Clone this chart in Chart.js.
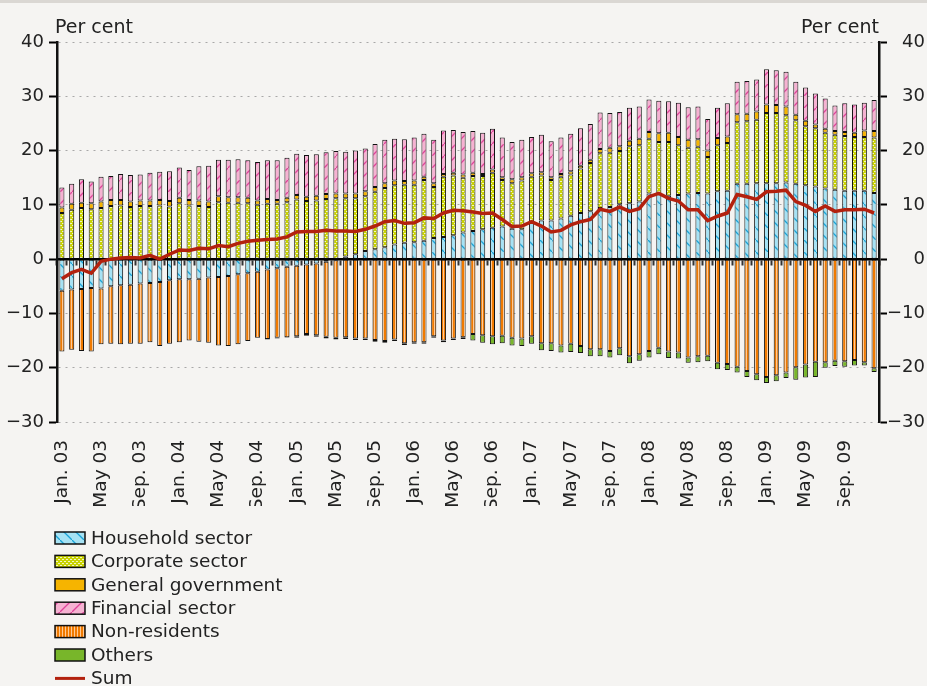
<!DOCTYPE html>
<html>
<head>
<meta charset="utf-8">
<script src="https://cdn.jsdelivr.net/npm/chart.js@4/dist/chart.umd.min.js"></script>
<style>
  html, body { margin: 0; padding: 0; background: #f5f4f2; }
  #topbar { position: absolute; left: 0; top: 0; width: 927px; height: 3px; background: #dad7d3; }
  #wrap { position: absolute; left: 0; top: 0; width: 927px; height: 686px; }
</style>
</head>
<body>
<div id="wrap"><canvas id="c" width="927" height="686"></canvas></div>
<div id="topbar"></div>
<script>
// ---------- DATA ----------
const monthNames = ['Jan.', 'Feb.', 'Mar.', 'Apr.', 'May', 'Jun.', 'Jul.', 'Aug.', 'Sep.', 'Oct.', 'Nov.', 'Dec.'];
const years = ['03', '04', '05', '06', '07', '08', '09'];
const categories = [];
years.forEach(y => monthNames.forEach(m => categories.push(m + ' ' + y)));

const unitLabel = 'Per cent';
const seriesNames = ['Household sector', 'Corporate sector', 'General government', 'Financial sector', 'Non-residents', 'Others', 'Sum'];

const household = [
  -5.8,-5.6,-5.5,-5.3,-5.4,-5.0,-4.8,-4.7,-4.5,-4.4,-4.2,-3.9,
  -3.7,-3.7,-3.6,-3.4,-3.3,-3.1,-2.8,-2.6,-2.3,-1.9,-1.7,-1.4,
  -1.2,-1.0,-0.8,-0.5,-0.2,0.5,0.9,1.5,1.8,2.2,2.7,3.0,
  3.1,3.4,3.9,4.1,4.4,4.9,5.2,5.5,5.8,6.0,5.6,5.5,
  6.9,7.1,7.1,7.5,8.0,8.5,8.8,9.4,9.6,10.1,10.3,10.6,
  12.1,12.0,11.7,11.8,12.1,12.2,12.1,12.5,12.6,13.9,13.9,14.0,
  14.0,14.0,14.1,13.9,13.6,13.4,13.0,12.8,12.6,12.6,12.6,12.2
];
const corporate = [
  8.5,9.1,9.4,9.2,9.4,9.8,9.9,9.6,9.8,9.8,9.9,9.7,
  10.3,9.9,9.8,9.6,10.5,10.4,10.4,10.3,10.0,10.2,10.2,10.5,
  11.0,10.7,10.8,11.1,11.2,10.7,10.3,10.1,10.6,10.9,10.9,10.7,
  10.6,11.2,9.4,11.1,11.0,10.1,10.1,9.8,10.1,8.6,8.4,9.0,
  8.3,8.3,7.5,7.7,7.6,8.2,8.9,10.1,10.0,9.8,10.5,10.4,
  10.1,9.6,9.9,9.2,8.4,8.5,6.7,8.5,8.8,11.3,11.5,11.7,
  12.9,12.9,12.4,11.7,10.9,10.7,10.3,10.1,10.1,9.9,9.9,10.2
];
const government = [
  1.0,1.1,1.0,1.1,1.2,1.1,1.0,1.0,1.0,1.0,1.0,1.0,
  1.0,1.0,1.0,1.0,1.1,1.0,1.0,1.0,0.8,0.9,0.7,0.8,
  0.8,0.8,0.9,0.9,0.9,0.9,0.9,0.9,0.9,0.9,0.9,0.7,
  0.8,0.6,0.7,0.5,0.5,0.6,0.6,0.4,0.6,0.5,0.7,0.6,
  0.6,0.6,0.5,0.5,0.6,0.5,0.6,0.8,0.9,0.9,1.0,1.2,
  1.2,1.6,1.7,1.5,1.5,1.4,1.2,1.3,1.2,1.5,1.4,1.5,
  1.6,1.5,1.6,1.0,1.0,0.7,0.7,0.7,0.7,0.8,1.2,1.2
];
const financial = [
  3.7,3.7,4.3,4.0,4.6,4.4,4.8,4.9,4.8,5.1,5.2,5.5,
  5.6,5.5,6.3,6.6,6.7,6.9,7.0,6.9,7.1,7.1,7.3,7.4,
  7.6,7.7,7.6,7.7,7.8,7.7,7.9,7.9,7.9,8.0,7.7,7.7,
  7.9,7.9,8.0,8.0,7.9,7.8,7.7,7.6,7.5,7.3,6.9,6.9,
  6.7,6.9,6.6,6.7,6.9,6.9,6.6,6.7,6.4,6.3,6.1,5.9,
  6.0,6.0,5.8,6.3,6.0,6.0,5.8,5.6,6.1,6.0,6.0,5.9,
  6.5,6.4,6.4,6.1,6.1,5.7,5.6,4.7,5.3,5.2,5.1,5.7
];
const nonResidents = [
  -11.2,-11.1,-11.4,-11.7,-10.3,-10.6,-10.9,-10.9,-11.1,-10.9,-11.8,-11.7,
  -11.6,-11.3,-11.6,-12.0,-12.6,-12.9,-12.9,-12.5,-12.2,-12.8,-12.8,-13.0,
  -13.0,-12.8,-13.2,-13.8,-14.3,-14.4,-14.6,-14.6,-14.9,-15.1,-14.8,-15.5,
  -15.3,-15.3,-14.2,-15.0,-14.6,-14.4,-13.8,-14.0,-14.2,-14.1,-14.5,-14.6,
  -14.2,-15.5,-15.5,-15.9,-15.6,-16.0,-16.6,-16.6,-16.9,-16.4,-17.9,-17.5,
  -16.9,-16.3,-17.0,-17.2,-18.1,-17.9,-17.8,-19.1,-19.3,-19.8,-20.6,-21.2,
  -21.7,-21.4,-20.9,-19.9,-19.4,-18.9,-19.0,-18.7,-18.8,-18.6,-19.0,-20.1
];
const others = [
  0,0,0,0,0,0,0,0,0,0,0,0,
  0,0,0,0,0,0,0,0,0,-0.1,-0.1,-0.1,
  -0.3,-0.3,-0.3,-0.3,-0.3,-0.3,-0.3,-0.3,-0.3,-0.3,-0.3,-0.3,
  -0.3,-0.3,-0.3,-0.3,-0.3,-0.3,-1.2,-1.4,-1.5,-1.4,-1.4,-1.4,
  -1.4,-1.3,-1.4,-1.3,-1.5,-1.3,-1.3,-1.3,-1.2,-1.3,-1.3,-1.2,
  -1.2,-1.2,-1.2,-1.1,-1.0,-1.1,-1.0,-1.2,-1.1,-1.1,-1.1,-1.1,
  -1.1,-1.1,-1.0,-2.3,-2.4,-2.8,-1.0,-1.0,-1.0,-1.0,-0.6,-0.7
];
const sum = [
  -3.6,-2.5,-1.9,-2.6,-0.4,0.0,0.2,0.3,0.2,0.7,0.0,0.9,
  1.7,1.6,2.0,1.9,2.5,2.3,2.9,3.3,3.5,3.6,3.7,4.1,
  5.0,5.1,5.1,5.3,5.2,5.2,5.1,5.5,6.1,6.9,7.1,6.6,
  6.7,7.6,7.5,8.5,9.0,8.9,8.7,8.4,8.5,7.3,6.0,6.1,
  6.9,6.1,5.0,5.3,6.3,6.9,7.3,9.2,8.8,9.6,8.8,9.3,
  11.5,12.1,11.2,10.7,9.1,9.1,7.1,7.9,8.5,11.9,11.5,11.0,
  12.4,12.5,12.7,10.6,9.9,8.8,9.8,8.8,9.1,9.1,9.2,8.5
];

// ---------- PATTERNS ----------
function makeTile(w, h, draw) {
  const c = document.createElement('canvas');
  c.width = w; c.height = h;
  const g = c.getContext('2d');
  draw(g, w, h);
  return document.getElementById('c').getContext('2d').createPattern(c, 'repeat');
}
const patHousehold = makeTile(12, 12, (g, w, h) => {
  g.fillStyle = '#a6e2f4'; g.fillRect(0, 0, w, h);
  g.strokeStyle = '#1aa3d6'; g.lineWidth = 1.3;
  g.beginPath(); g.moveTo(-1, -1); g.lineTo(w + 1, h + 1); g.stroke();
});
const patCorporate = makeTile(4, 4, (g, w, h) => {
  g.fillStyle = '#c9d300'; g.fillRect(0, 0, w, h);
  g.fillStyle = '#f4f6c4';
  g.fillRect(0, 1, 2, 1); g.fillRect(2, 3, 2, 1);
});
const patFinancial = makeTile(12, 12, (g, w, h) => {
  g.fillStyle = '#f6b2d2'; g.fillRect(0, 0, w, h);
  g.strokeStyle = '#df449a'; g.lineWidth = 1.3;
  g.beginPath(); g.moveTo(-1, h + 1); g.lineTo(w + 1, -1); g.stroke();
});
const patNonRes = makeTile(3, 3, (g, w, h) => {
  g.fillStyle = '#f07a00'; g.fillRect(0, 0, w, h);
  g.fillStyle = '#ffc994'; g.fillRect(2, 0, 1, h);
});
const colGov = '#f6b400';
const colOthers = '#78b62a';
const colSum = '#b3210e';

const FONT = '"DejaVu Sans", sans-serif';
const nz = arr => arr.map(v => (v === 0 ? null : v));
const fmt = v => (v < 0 ? '\u2212' + Math.abs(v) : String(v));

function barSet(label, data, bg) {
  return {
    type: 'bar', label, data: nz(data), backgroundColor: bg,
    borderColor: '#111', borderWidth: 1, borderSkipped: false,
    categoryPercentage: 1.0, barPercentage: 0.52, order: 1,
    xAxisID: 'x', yAxisID: 'y'
  };
}

// ---------- EXTRA DRAWING (unit labels + legend) ----------
const extras = {
  id: 'extras',
  afterDraw(chart) {
    const ctx = chart.ctx, a = chart.chartArea;
    ctx.save();
    ctx.font = '19px ' + FONT;
    ctx.fillStyle = '#222';
    ctx.textBaseline = 'alphabetic';
    ctx.textAlign = 'left';
    ctx.fillText(unitLabel, a.left - 2, a.top - 9);
    ctx.textAlign = 'right';
    ctx.fillText(unitLabel, a.right, a.top - 9);

    // legend (one item per row)
    const lx = a.left - 2, ly = a.bottom + 116, step = 23.4;
    ctx.font = '18.5px ' + FONT;
    ctx.textAlign = 'left';
    ctx.textBaseline = 'middle';
    chart.data.datasets.forEach((ds, i) => {
      const cy = ly + i * step;
      if (ds.type === 'line') {
        ctx.strokeStyle = ds.borderColor; ctx.lineWidth = 3;
        ctx.beginPath(); ctx.moveTo(lx, cy); ctx.lineTo(lx + 30, cy); ctx.stroke();
      } else {
        ctx.fillStyle = ds.backgroundColor;
        ctx.fillRect(lx, cy - 6, 30, 12);
        ctx.strokeStyle = '#111'; ctx.lineWidth = 1.5;
        ctx.strokeRect(lx, cy - 6, 30, 12);
      }
      ctx.fillStyle = '#222';
      ctx.fillText(ds.label, lx + 36, cy + 1);
    });
    ctx.restore();
  }
};

new Chart(document.getElementById('c'), {
  data: {
    labels: categories,
    datasets: [
      barSet(seriesNames[0], household, patHousehold),
      barSet(seriesNames[1], corporate, patCorporate),
      barSet(seriesNames[2], government, colGov),
      barSet(seriesNames[3], financial, patFinancial),
      barSet(seriesNames[4], nonResidents, patNonRes),
      barSet(seriesNames[5], others, colOthers),
      {
        type: 'line', label: seriesNames[6], data: sum, stack: 'sumline',
        borderColor: colSum, backgroundColor: colSum, borderWidth: 3.5,
        pointRadius: 0, tension: 0, order: 0, xAxisID: 'x', yAxisID: 'y'
      }
    ]
  },
  options: {
    responsive: false,
    devicePixelRatio: 1,
    animation: false,
    layout: { padding: { top: 42, right: 2, bottom: 180, left: 0 } },
    plugins: { legend: { display: false }, tooltip: { enabled: false } },
    scales: {
      x: {
        type: 'category', position: 'bottom', stacked: true, offset: true,
        grid: { display: false, offset: true },
        border: { display: false },
        ticks: {
          autoSkip: false, minRotation: 90, maxRotation: 90, padding: 10,
          color: '#222', font: { family: FONT, size: 18.5 },
          callback: (v, i) => (i % 4 === 0 ? categories[i] : '')
        },
        afterFit: s => { s.height = 84; }
      },
      x0: {
        type: 'category', position: { y: 0 }, offset: true, z: 1,
        grid: { offset: true, drawOnChartArea: false, drawTicks: true, tickLength: 5, tickColor: '#333', tickWidth: 2 },
        border: { display: true, color: '#000', width: 2.5 },
        ticks: { display: false }
      },
      y: {
        type: 'linear', position: 'left', stacked: true, min: -30, max: 40,
        ticks: { stepSize: 10, padding: 5, color: '#222', font: { family: FONT, size: 18 }, callback: v => fmt(v) },
        grid: { color: '#a8a8a8', lineWidth: 1, tickColor: '#000', tickWidth: 2, tickLength: 8 },
        border: { display: true, color: '#111', width: 2.5, dash: [2, 5] },
        afterFit: s => { s.width = 57; }
      },
      y2: {
        type: 'linear', position: 'right', min: -30, max: 40,
        ticks: { stepSize: 10, padding: 5, crossAlign: 'far', color: '#222', font: { family: FONT, size: 18 }, callback: v => fmt(v) },
        grid: { drawOnChartArea: false, tickColor: '#000', tickWidth: 2, tickLength: 8 },
        border: { display: true, color: '#111', width: 2.5 },
        afterFit: s => { s.width = 46; }
      }
    }
  },
  plugins: [extras]
});
</script>
</body>
</html>
